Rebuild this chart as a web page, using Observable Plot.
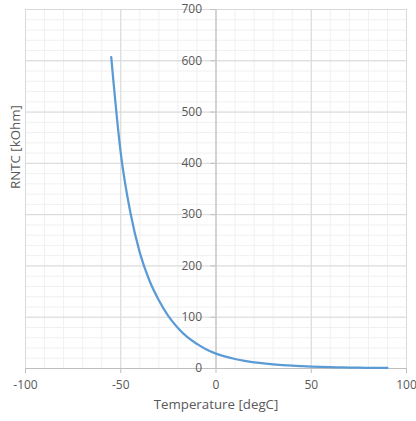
<!DOCTYPE html>
<html>
<head>
<meta charset="utf-8">
<script src="https://cdn.jsdelivr.net/npm/d3@7"></script>
<script src="https://cdn.jsdelivr.net/npm/@observablehq/plot@0.6"></script>
<style>
  html, body { margin: 0; padding: 0; background: #ffffff; }
</style>
</head>
<body>
<div id="chart"></div>
<script>
// Temperature [degC]
const temps = [-55, -50, -45, -40, -35, -30, -25, -20, -15, -10, -5, 0, 5, 10, 15, 20, 25, 30, 35, 40, 45, 50, 55, 60, 65, 70, 75, 80, 85, 90];
// RNTC [kOhm]
const rntc = [607, 420, 305, 226, 172, 133, 102, 79, 61, 48, 37, 29, 23, 18.5, 14.8, 12, 10, 8.2, 6.7, 5.5, 4.6, 3.8, 3.2, 2.7, 2.3, 1.9, 1.6, 1.4, 1.2, 1.0];

const xTicks = [-100, -50, 0, 50, 100];
const yTicks = [0, 100, 200, 300, 400, 500, 600, 700];
const xMinor = d3.range(-100, 101, 10);
const yMinor = d3.range(0, 701, 20);

const data = temps.map((t, i) => ({t, r: rntc[i]}));

const ink = "#595959";
const axisGray = "#bfbfbf";

const chart = Plot.plot({
  width: 416,
  height: 421,
  marginLeft: 25,
  marginRight: 10,
  marginTop: 9,
  marginBottom: 53,
  x: {domain: [-100, 100], axis: null},
  y: {domain: [0, 700], axis: null},
  style: {fontFamily: "'Open Sans', sans-serif", color: ink, background: "#ffffff", overflow: "visible"},
  marks: [
    Plot.ruleX(xMinor, {stroke: "#f0f0f0"}),
    Plot.ruleY(yMinor, {stroke: "#f0f0f0"}),
    Plot.ruleX(xTicks, {stroke: "#d9d9d9"}),
    Plot.ruleY(yTicks, {stroke: "#d9d9d9"}),
    Plot.ruleX([0], {stroke: axisGray}),
    Plot.ruleY([0], {stroke: axisGray}),
    Plot.axisX({ticks: xTicks, tickSize: 5, tickPadding: 7, stroke: axisGray, fill: ink, fontSize: 12, label: null, tickFormat: d => String(d)}),
    Plot.ruleY(yTicks, {x1: 0, x2: 0, insetLeft: -5, stroke: axisGray}),
    Plot.text(yTicks, {x: 0, y: d => d, text: d => String(d), textAnchor: "end", dx: -14, fontSize: 12, fill: ink}),
    Plot.line(data, {x: "t", y: "r", stroke: "#5B9BD5", strokeWidth: 2.25, curve: "monotone-x"}),
    Plot.text(["Temperature [degC]"], {frameAnchor: "bottom", dy: 40, fontSize: 13.3, fill: ink}),
    Plot.text(["RNTC [kOhm]"], {frameAnchor: "left", rotate: -90, dx: -10, fontSize: 13.3, fill: ink})
  ]
});
document.getElementById("chart").appendChild(chart);
</script>
</body>
</html>
